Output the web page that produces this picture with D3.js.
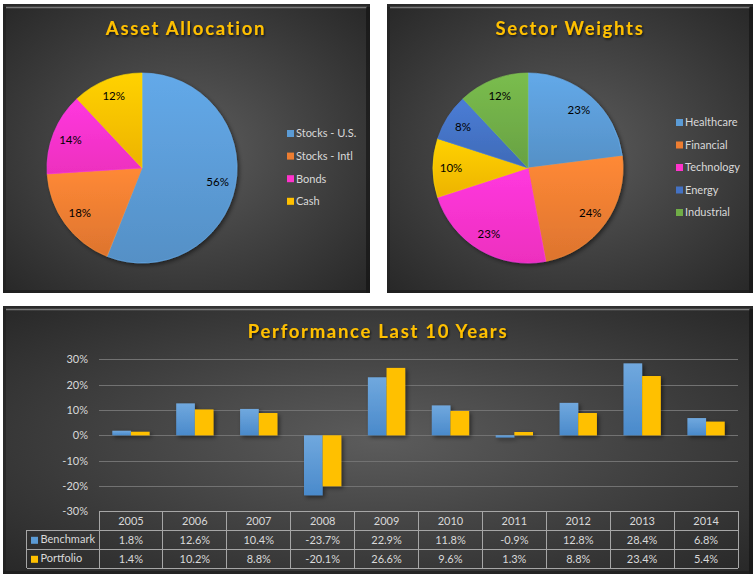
<!DOCTYPE html>
<html><head><meta charset="utf-8">
<script src="https://cdn.jsdelivr.net/npm/d3@7"></script>
<style>
html,body{margin:0;padding:0;background:#fff;}
svg{display:block;font-family:Lato, "Open Sans", sans-serif;}
</style></head>
<body>
<svg id="c" width="756" height="579"></svg>
<script>
// ---- data ----
const assetCategories = ["Stocks - U.S.", "Stocks - Intl", "Bonds", "Cash"];
const assetValues = [56, 18, 14, 12];
const assetColors = ["#5b9bd5", "#ed7d31", "#ff33cc", "#ffc000"];

const sectorCategories = ["Healthcare", "Financial", "Technology", "Other", "Energy", "Industrial"];
const sectorValues = [23, 24, 23, 10, 8, 12];
const sectorColors = ["#5b9bd5", "#ed7d31", "#ff33cc", "#ffc000", "#4472c4", "#70ad47"];
const sectorLegend = ["Healthcare", "Financial", "Technology", "Energy", "Industrial"];

const years = ["2005","2006","2007","2008","2009","2010","2011","2012","2013","2014"];
const seriesNames = ["Benchmark", "Portfolio"];
const benchmark = [1.8, 12.6, 10.4, -23.7, 22.9, 11.8, -0.9, 12.8, 28.4, 6.8];
const portfolio = [1.4, 10.2, 8.8, -20.1, 26.6, 9.6, 1.3, 8.8, 23.4, 5.4];
const yTicks = [30, 20, 10, 0, -10, -20, -30];

// ---- drawing ----
const svg = d3.select("#c");
const defs = svg.append("defs");

function shade(c, k){ return d3.color(c).brighter(k).formatHex(); }

// panel gradient
const rg = defs.append("radialGradient").attr("id","panelBg").attr("cx","50%").attr("cy","50%").attr("r","70%");
rg.append("stop").attr("offset","0%").attr("stop-color","#5c5c5c");
rg.append("stop").attr("offset","100%").attr("stop-color","#282828");

const ds = defs.append("filter").attr("id","shadow").attr("x","-20%").attr("y","-20%").attr("width","140%").attr("height","140%");
ds.append("feDropShadow").attr("dx",2).attr("dy",2).attr("stdDeviation",2).attr("flood-color","#000").attr("flood-opacity",0.5);
const ts = defs.append("filter").attr("id","tshadow").attr("x","-10%").attr("y","-30%").attr("width","120%").attr("height","160%");
ts.append("feDropShadow").attr("dx",1).attr("dy",1.5).attr("stdDeviation",1).attr("flood-color","#000").attr("flood-opacity",0.7);

function colorGrad(id, c){
  const g = defs.append("linearGradient").attr("id", id).attr("x1",0).attr("y1",0).attr("x2",0).attr("y2",1);
  g.append("stop").attr("offset","0%").attr("stop-color", shade(c,0.25));
  g.append("stop").attr("offset","100%").attr("stop-color", shade(c,-0.2));
  return "url(#"+id+")";
}

function panel(x, y, w, h){
  const g = svg.append("g");
  g.append("rect").attr("x",x).attr("y",y).attr("width",w).attr("height",h).attr("fill","url(#panelBg)");
  // bevel
  g.append("line").attr("x1",x+3).attr("x2",x+w-3).attr("y1",y+3.5).attr("y2",y+3.5).attr("stroke","#8a8a8a").attr("stroke-width",1.5).attr("opacity",0.8);
  g.append("line").attr("x1",x+w-2).attr("x2",x+w-2).attr("y1",y+3).attr("y2",y+h).attr("stroke","#111").attr("stroke-width",4).attr("opacity",0.6);
  g.append("line").attr("x1",x).attr("x2",x+w).attr("y1",y+h-1.5).attr("y2",y+h-1.5).attr("stroke","#1a1a1a").attr("stroke-width",3).attr("opacity",0.6);
  g.append("line").attr("x1",x+1.5).attr("x2",x+1.5).attr("y1",y+3).attr("y2",y+h).attr("stroke","#1e1e1e").attr("stroke-width",3).attr("opacity",0.5);
  return g;
}

function title(text, cx, y){
  svg.append("text").attr("x",cx).attr("y",y).attr("text-anchor","middle")
    .attr("fill","#ffc000").attr("font-size",18.5).attr("font-weight","bold")
    .attr("letter-spacing","1.7px").attr("filter","url(#tshadow)").text(text);
}

function pie(cats, vals, cols, cx, cy, r, legendItems, lx, ly, lstep, prefix){
  const arcs = d3.pie().sort(null).value(d=>d)(vals);
  const arc = d3.arc().innerRadius(0).outerRadius(r);
  const lab = d3.arc().innerRadius(r*0.81).outerRadius(r*0.81);
  const g = svg.append("g").attr("transform",`translate(${cx},${cy})`);
  const sg = g.append("g").attr("filter","url(#shadow)");
  sg.selectAll("path").data(arcs).join("path")
    .attr("d", arc)
    .attr("fill", (d,i)=>colorGrad(prefix+i, cols[i]))
    .attr("stroke", (d,i)=>shade(cols[i],0.4)).attr("stroke-width",0.6);
  g.selectAll("text").data(arcs).join("text")
    .attr("transform", d=>`translate(${lab.centroid(d)})`)
    .attr("text-anchor","middle").attr("dy","0.35em")
    .attr("font-size",11.5).attr("fill","#000").text(d=>d.data+"%");
  const lg = svg.append("g");
  legendItems.forEach((name,k)=>{
    const i = cats.indexOf(name);
    const yy = ly + k*lstep;
    lg.append("rect").attr("x",lx).attr("y",yy-3.5).attr("width",7).attr("height",7).attr("fill",cols[i]);
    lg.append("text").attr("x",lx+9).attr("y",yy).attr("dy","0.35em").attr("font-size",11).attr("fill","#d9d9d9").text(name);
  });
}

// panels
panel(3, 4, 367, 289);
panel(387, 4, 366, 289);
panel(3, 306, 750, 268);

title("Asset Allocation", 186, 35);
title("Sector Weights", 570, 35);
title("Performance Last 10 Years", 378, 338);

pie(assetCategories, assetValues, assetColors, 142, 168, 95, assetCategories, 287, 133.5, 22.6, "a");
pie(sectorCategories, sectorValues, sectorColors, 528, 168, 95, sectorLegend, 676, 122.5, 22.5, "s");

// bar chart
const plotL = 99, plotR = 738;
const y = d3.scaleLinear().domain([-30, 30]).range([511.3, 359.3]);
const x0 = d3.scaleBand().domain(years).range([plotL, plotR]).padding(0);
const x1 = d3.scaleBand().domain(seriesNames).range([0, x0.bandwidth()]).paddingInner(0).paddingOuter(0.713);
const barColors = ["#5b9bd5", "#ffc000"];
const bg = svg.append("g");
// gridlines
bg.selectAll("line.grid").data(yTicks.filter(t=>t>-30)).join("line")
  .attr("x1",plotL).attr("x2",plotR).attr("y1",d=>Math.round(y(d))+0.5).attr("y2",d=>Math.round(y(d))+0.5)
  .attr("stroke","#727272").attr("stroke-width",1);
// y axis labels
const yAxis = d3.axisLeft(y).tickValues(yTicks).tickFormat(d=>d+"%").tickSize(0).tickPadding(0);
const ya = svg.append("g").attr("transform",`translate(88,0)`).call(yAxis);
ya.select(".domain").remove();
ya.selectAll("text").attr("fill","#d9d9d9").attr("font-size",11).attr("font-family","Lato, sans-serif");

const bgGrad = defs.append("linearGradient").attr("id","benchGrad").attr("x1",0).attr("y1",0).attr("x2",0).attr("y2",1);
bgGrad.append("stop").attr("offset","0%").attr("stop-color","#70a8de");
bgGrad.append("stop").attr("offset","100%").attr("stop-color","#4a8acb");

const seriesData = [benchmark, portfolio];
const bars = svg.append("g").attr("filter","url(#shadow)");
seriesData.forEach((vals, s)=>{
  bars.selectAll("rect.s"+s).data(vals).join("rect")
    .attr("x",(d,i)=>x0(years[i]) + x1(seriesNames[s]))
    .attr("width", x1.bandwidth())
    .attr("y", d=>y(Math.max(0,d)))
    .attr("height", d=>Math.abs(y(d)-y(0)))
    .attr("fill", s===0 ? "url(#benchGrad)" : barColors[1]);
});

// data table
const rowH = [511.3, 530.3, 549.3, 568.3];
const tcol = "#a6a6a6";
const tg = svg.append("g").attr("stroke",tcol).attr("stroke-width",1).attr("shape-rendering","crispEdges");
tg.append("line").attr("x1",plotL).attr("x2",plotR).attr("y1",rowH[0]).attr("y2",rowH[0]);
[1,2,3].forEach(r=>tg.append("line").attr("x1",26.7).attr("x2",plotR).attr("y1",rowH[r]).attr("y2",rowH[r]));
years.forEach(yr=>tg.append("line").attr("x1",x0(yr)).attr("x2",x0(yr)).attr("y1",rowH[0]).attr("y2",rowH[3]));
tg.append("line").attr("x1",plotR).attr("x2",plotR).attr("y1",rowH[0]).attr("y2",rowH[3]);
tg.append("line").attr("x1",26.7).attr("x2",26.7).attr("y1",rowH[1]).attr("y2",rowH[3]);

const tt = svg.append("g").attr("font-size",11).attr("fill","#d9d9d9").attr("text-anchor","middle");
years.forEach(yr=>{
  const cx = x0(yr)+x0.bandwidth()/2;
  tt.append("text").attr("x",cx).attr("y",(rowH[0]+rowH[1])/2).attr("dy","0.35em").text(yr);
});
seriesData.forEach((vals,s)=>{
  const cy = (rowH[s+1]+rowH[s+2])/2;
  vals.forEach((v,i)=>{
    tt.append("text").attr("x",x0(years[i])+x0.bandwidth()/2).attr("y",cy).attr("dy","0.35em").text(v.toFixed(1)+"%");
  });
  svg.append("rect").attr("x",31).attr("y",cy-3).attr("width",7).attr("height",7).attr("fill",barColors[s]);
  svg.append("text").attr("x",40.5).attr("y",cy-1).attr("dy","0.35em").attr("font-size",11).attr("fill","#d9d9d9").text(seriesNames[s]);
});
</script>
</body></html>
